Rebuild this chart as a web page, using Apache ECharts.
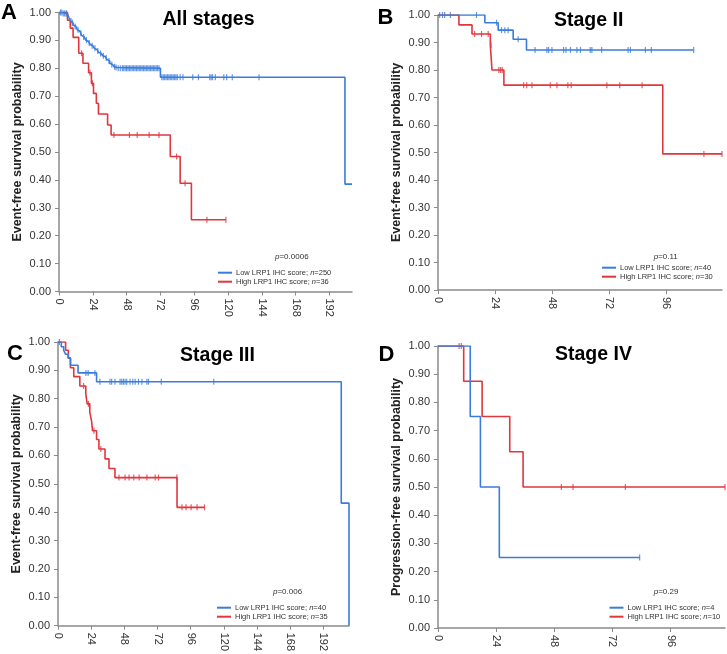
<!DOCTYPE html>
<html>
<head>
<meta charset="utf-8">
<title>LRP1 IHC score survival</title>
<script src="https://cdn.jsdelivr.net/npm/echarts@6/dist/echarts.min.js"></script>
<style>
  html, body { margin: 0; padding: 0; background: #fff; }
  #chart { width: 727px; height: 654px; }
</style>
</head>
<body>
<div id="chart"></div>
<script>
// Kaplan-Meier steps, [month, survival after the event at that month]
const stepsALow = [[0,1.00],[3,0.996],[6,0.99],[7,0.982],[8,0.97],[9,0.963],[10,0.955],[11,0.95],[12,0.945],[13,0.938],[14,0.932],[15,0.926],[16,0.918],[17,0.912],[18,0.906],[19,0.901],[20,0.896],[21,0.891],[22,0.886],[23,0.881],[24,0.877],[25,0.872],[26,0.867],[27,0.862],[28,0.858],[29,0.853],[30,0.848],[31,0.845],[32,0.841],[33,0.837],[34,0.832],[35,0.826],[36,0.818],[37,0.814],[38,0.81],[39,0.806],[40,0.803],[41,0.80],[72,0.768],[203,0.385],[208,0.385]];
const stepsAHigh = [[0,1.00],[6,0.972],[8,0.944],[10,0.911],[14,0.854],[17,0.818],[21,0.784],[23,0.746],[24.5,0.71],[26.5,0.675],[28,0.636],[34.5,0.597],[37,0.561],[79,0.484],[86,0.388],[94,0.257],[118.5,0.257]];
const stepsBLow = [[0,1.00],[19.7,0.972],[25.3,0.945],[31.6,0.912],[37.2,0.873],[107.5,0.873]];
const stepsBHigh = [[0,1.00],[8.8,0.964],[14.3,0.931],[22,0.89],[22.7,0.80],[27.7,0.745],[94.5,0.495],[119.4,0.495]];
const stepsCLow = [[0,1.00],[2.4,0.983],[4.1,0.971],[5.4,0.957],[7.3,0.944],[9,0.918],[14.5,0.891],[27.9,0.86],[204.9,0.432],[210.5,0]];
const stepsCHigh = [[0,1.00],[5.5,0.971],[7.5,0.943],[9,0.909],[11.4,0.878],[15.8,0.845],[20.1,0.817],[21.1,0.782],[23,0.753],[24.3,0.72],[25,0.687],[27.9,0.656],[29.6,0.623],[34,0.588],[36.9,0.554],[41.2,0.522],[86.1,0.417],[106,0.417]];
const stepsDLow = [[0,1.00],[13.3,0.75],[17.5,0.5],[25.3,0.25],[83.2,0.25]];
const stepsDHigh = [[0,1.00],[10.6,0.875],[18.2,0.75],[29.6,0.625],[35.1,0.5],[118.4,0.5]];

// censored observations (months)
const censorALow = [1,2,3,4,5,5.5,8.5,9.5,11.5,13.5,15.5,17.5,19.5,21.5,23.5,25.5,27.5,29.5,31.5,33.5,35.5,37.5,39.5,40.5,42,43.5,45,46,47,48,49,50,51,52,53,54,55,56,57,58,59,60,61,62,63,64,65,66,67,68,69,70,71,73,74,75,76,77,78,79,80,81,82,83,84,86,88,95,99,107,108,109,111,117,119,123,142];
const censorAHigh = [16,22,23.7,39,50,55.5,64,71,83.5,89.5,105,118.5];
const censorBLow = [0.7,1.9,2.8,5.2,16.2,24.6,26.7,28.1,29.5,33.7,40.8,45.8,46.5,47.9,52.8,53.8,55.7,58.4,59.9,64,64.7,68.8,79.9,80.9,87.2,89.7,107.5];
const censorBHigh = [15.4,18.3,21.1,22.3,25.6,26.3,27,36,37.3,39.5,47.2,50,54.6,56,71,76.4,85.8,111.8,119.4];
const censorCLow = [1,20.2,21.8,26.7,30.3,37.6,38.8,41.2,44.9,46.1,47.3,48.5,49.7,52.1,54.1,55.8,58.2,60.7,64.3,65.5,74.7,112.7];
const censorCHigh = [18.5,22,26,31,44.1,48.5,51.4,54.8,58.7,64.3,70.3,72.7,86,89.7,92.6,96.3,100.6,106];
const censorDLow = [83.2];
const censorDHigh = [8.7,9.6,50.9,55.7,77.3,118.4];

const panelLetters = ['A','B','C','D'];
const panelTitles = ['All stages','Stage II','Stage III','Stage IV'];
const yNames = ['Event-free survival probability','Event-free survival probability','Event-free survival probability','Progression-free survival probability'];
const nLow = [250,40,40,4];
const nHigh = [36,30,35,10];
const pValues = ['0.0006','0.11','0.006','0.29'];
const xMaxes = [208,119.4,210.5,118.4];
const xTicksLong = [0,24,48,72,96,120,144,168,192];
const xTicksShort = [0,24,48,72,96];
const yTicks = [0,0.1,0.2,0.3,0.4,0.5,0.6,0.7,0.8,0.9,1.0];

const lowSteps = [stepsALow, stepsBLow, stepsCLow, stepsDLow];
const highSteps = [stepsAHigh, stepsBHigh, stepsCHigh, stepsDHigh];
const lowCensor = [censorALow, censorBLow, censorCLow, censorDLow];
const highCensor = [censorAHigh, censorBHigh, censorCHigh, censorDHigh];
const xTicksFor = [xTicksLong, xTicksShort, xTicksLong, xTicksShort];

// layout (pixels)
const grids = [
  {left:59, top:12.5, width:293, height:279},
  {left:438, top:15, width:284, height:275},
  {left:58, top:342, width:291, height:285},
  {left:438, top:346, width:287, height:282}
];
const letterPos = [[9,12.5],[385.5,17.5],[15,353.5],[386.5,354.5]];
const titlePos = [[208.5,19.5],[588.7,20.5],[217.5,355.5],[593.5,354.5]];
const pPos = [[275,256.7],[653.7,256.7],[273,591.7],[653.7,591.7]];
const legendPos = [[218,268.2],[602,263.2],[217,603.2],[609.5,603.2]];

const BLUE = '#3a7cdc';
const RED = '#e1363d';

function survAt(steps, t) {
  let s = steps[0][1];
  for (const [st, sv] of steps) { if (st <= t) s = sv; }
  return s;
}

let myChart = echarts.init(document.getElementById('chart'));

let option = {
  animation: false,
  backgroundColor: '#fff',
  textStyle: {fontFamily: 'Liberation Sans, Arial, sans-serif'},
  grid: [], xAxis: [], yAxis: [], series: [], legend: [], graphic: []
};

for (let i = 0; i < 4; i++) {
  option.grid.push(grids[i]);
  option.xAxis.push({
    type: 'value', gridIndex: i, min: 0, max: xMaxes[i],
    axisLine: {lineStyle: {color: '#8a8a8a', width: 1.5}},
    axisTick: {show: true, length: 4, customValues: xTicksFor[i], lineStyle: {color: '#8a8a8a'}},
    axisLabel: {customValues: xTicksFor[i], rotate: -90, margin: 7, fontSize: 11, color: '#333'},
    splitLine: {show: false}
  });
  option.yAxis.push({
    type: 'value', gridIndex: i, min: 0, max: 1, interval: 0.1,
    name: yNames[i], nameLocation: 'middle', nameGap: 35,
    nameTextStyle: {fontWeight: 'bold', fontSize: 12.5, color: '#222'},
    axisLine: {show: true, lineStyle: {color: '#8a8a8a', width: 1.5}},
    axisTick: {show: true, length: 4, lineStyle: {color: '#8a8a8a'}},
    axisLabel: {margin: 8, fontSize: 11, color: '#333', formatter: v => v.toFixed(2)},
    splitLine: {show: false}
  });
  option.series.push({
    name: 'high' + i, type: 'line', step: 'end', xAxisIndex: i, yAxisIndex: i,
    data: highSteps[i], showSymbol: false, color: RED,
    lineStyle: {color: RED, width: 1.6}
  });
  option.series.push({
    name: 'low' + i, type: 'line', step: 'end', xAxisIndex: i, yAxisIndex: i,
    data: lowSteps[i], showSymbol: false, color: BLUE,
    lineStyle: {color: BLUE, width: 1.6}
  });
  option.series.push({
    name: 'highC' + i, type: 'scatter', xAxisIndex: i, yAxisIndex: i, silent: true,
    data: highCensor[i].map(t => [t, survAt(highSteps[i], t)]),
    symbol: 'rect', symbolSize: [1.2, 6], itemStyle: {color: RED}
  });
  option.series.push({
    name: 'lowC' + i, type: 'scatter', xAxisIndex: i, yAxisIndex: i, silent: true,
    data: lowCensor[i].map(t => [t, survAt(lowSteps[i], t)]),
    symbol: 'rect', symbolSize: [1.2, 6], itemStyle: {color: BLUE}
  });
  option.legend.push({
    data: ['low' + i, 'high' + i], orient: 'vertical',
    left: legendPos[i][0], top: legendPos[i][1], padding: 0, itemGap: 0,
    itemWidth: 14, itemHeight: 2, icon: 'rect', selectedMode: false,
    formatter: name => name.startsWith('low')
      ? 'Low LRP1 IHC score; {i|n}=' + nLow[i]
      : 'High LRP1 IHC score; {i|n}=' + nHigh[i],
    textStyle: {fontSize: 7.5, lineHeight: 9, color: '#333', padding: [0,0,0,-1],
      rich: {i: {fontStyle: 'italic', fontSize: 7.5, lineHeight: 9, color: '#333'}}}
  });
  option.graphic.push({
    type: 'text', left: null, x: letterPos[i][0], y: letterPos[i][1],
    style: {text: panelLetters[i], fontSize: 22, fontWeight: 'bold', fill: '#000',
      align: 'center', verticalAlign: 'middle', fontFamily: 'Liberation Sans, Arial, sans-serif'}
  });
  option.graphic.push({
    type: 'text', x: titlePos[i][0], y: titlePos[i][1],
    style: {text: panelTitles[i], fontSize: 19.5, fontWeight: 'bold', fill: '#000',
      align: 'center', verticalAlign: 'middle', fontFamily: 'Liberation Sans, Arial, sans-serif'}
  });
  option.graphic.push({
    type: 'text', x: pPos[i][0], y: pPos[i][1],
    style: {text: '{i|p}=' + pValues[i], fontSize: 8, fill: '#333',
      align: 'left', verticalAlign: 'middle', fontFamily: 'Liberation Sans, Arial, sans-serif',
      rich: {i: {fontStyle: 'italic', fontSize: 8, fill: '#333'}}}
  });
}

myChart.setOption(option);
</script>
</body>
</html>
